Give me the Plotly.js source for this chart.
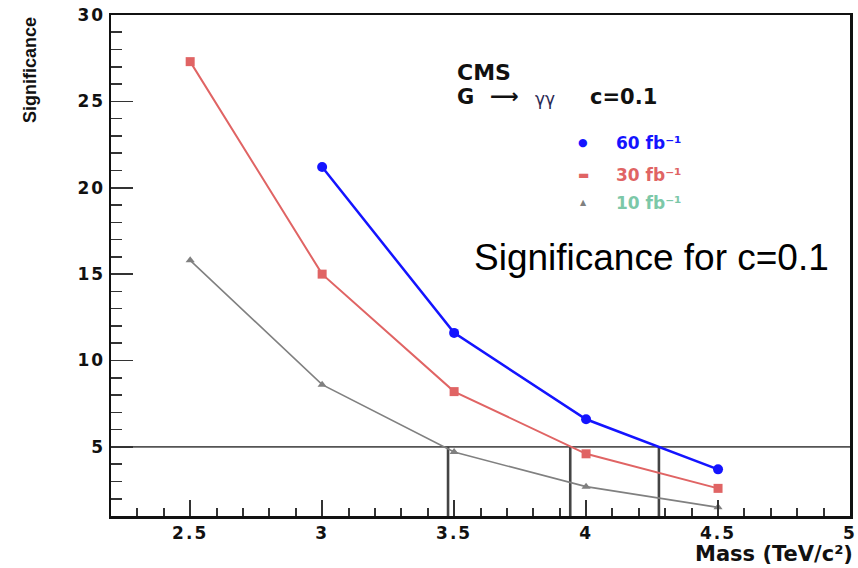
<!DOCTYPE html>
<html>
<head>
<meta charset="utf-8">
<script src="https://cdn.plot.ly/plotly-3.0.1.min.js"></script>
<style>
html,body{margin:0;padding:0;background:#fff;}
#chart{width:858px;height:568px;}
.xtick text, .ytick text {letter-spacing:2px;}
</style>
</head>
<body>
<div id="chart"></div>
<script>
// Data
var massPoints60 = [3.0, 3.5, 4.0, 4.5];
var sig60 = [21.2, 11.6, 6.6, 3.7];
var massPoints30 = [2.5, 3.0, 3.5, 4.0, 4.5];
var sig30 = [27.3, 15.0, 8.2, 4.6, 2.6];
var massPoints10 = [2.5, 3.0, 3.5, 4.0, 4.5];
var sig10 = [15.8, 8.6, 4.7, 2.7, 1.5];
var discoveryLevel = 5;
var crossingMasses = [3.477, 3.94, 4.276];
var xTickVals = [2.5, 3, 3.5, 4, 4.5, 5];
var xTickText = ['2.5', '3', '3.5', '4', '4.5', '5'];
var yTickVals = [5, 10, 15, 20, 25, 30];
var yTickText = ['5', '10', '15', '20', '25', '30'];
var legendLabels = ['60 fb\u207b\u00b9', '30 fb\u207b\u00b9', '10 fb\u207b\u00b9'];

var cBlue = '#1414ff', cRed = '#e06464', cGray = '#808080', cTeal = '#7cc8a8';

var traces = [
  {x: massPoints10, y: sig10, mode: 'lines+markers', line: {color: cGray, width: 1.6},
   marker: {symbol: 'triangle-up', size: 8, color: cGray}, cliponaxis: false, showlegend: false},
  {x: massPoints30, y: sig30, mode: 'lines+markers', line: {color: cRed, width: 2},
   marker: {symbol: 'square', size: 9, color: cRed}, cliponaxis: false, showlegend: false},
  {x: massPoints60, y: sig60, mode: 'lines+markers', line: {color: cBlue, width: 2.5},
   marker: {symbol: 'circle', size: 10, color: cBlue}, cliponaxis: false, showlegend: false}
];

var shapes = [
  {type: 'line', xref: 'paper', x0: 0, x1: 1, yref: 'y', y0: discoveryLevel, y1: discoveryLevel,
   line: {color: '#555', width: 1.6}, layer: 'below'}
];
crossingMasses.forEach(function (m) {
  shapes.push({type: 'line', xref: 'x', x0: m, x1: m, yref: 'y', y0: 1, y1: discoveryLevel,
    line: {color: '#444', width: 2.6}, layer: 'below'});
});

var tickFont = {family: 'DejaVu Sans', size: 17, color: '#111', weight: 'bold'};
var bf = 'DejaVu Sans';
function ann(x, y, xa, text, font, extra) {
  var a = {xref: 'paper', yref: 'paper', x: x, y: y, xanchor: xa, yanchor: 'middle', showarrow: false, text: text, font: font};
  if (extra) for (var k in extra) a[k] = extra[k];
  return a;
}
var annotations = [
  ann(0.4655, 0.886, 'left', 'CMS', {family: bf, size: 22, weight: 'bold', color: '#111'}),
  ann(0.4655, 0.836, 'left', 'G', {family: bf, size: 21, weight: 'bold', color: '#111'}),
  ann(0.5100, 0.838, 'left', '\u27f6', {family: bf, size: 20, weight: 'bold', color: '#111'}),
  ann(0.5710, 0.832, 'left', '\u03b3\u03b3', {family: bf, size: 17, color: '#2a2a55'}),
  ann(0.6455, 0.836, 'left', 'c=0.1', {family: bf, size: 21, weight: 'bold', color: '#111'}),
  ann(0.639, 0.745, 'center', '\u25cf', {family: bf, size: 11, color: cBlue}),
  ann(0.639, 0.681, 'center', '\u25ac', {family: bf, size: 12, color: cRed}),
  ann(0.639, 0.625, 'center', '\u25b2', {family: bf, size: 8, color: cGray}),
  ann(0.681, 0.745, 'left', legendLabels[0], {family: bf, size: 17, weight: 'bold', color: cBlue}),
  ann(0.681, 0.681, 'left', legendLabels[1], {family: bf, size: 17, weight: 'bold', color: cRed}),
  ann(0.681, 0.625, 'left', legendLabels[2], {family: bf, size: 17, weight: 'bold', color: cTeal}),
  ann(0.4885, 0.515, 'left', 'Significance for c=0.1', {family: 'Liberation Sans', size: 37, color: '#000'}),
  ann(-0.1096, 1, 'center', 'Significance', {family: 'Liberation Sans', size: 18, weight: 'bold', color: '#111'},
      {textangle: -90, yanchor: 'top'}),
  ann(1.0068, -0.075, 'right', 'Mass (TeV/c\u00b2)', {family: bf, size: 21, weight: 'bold', color: '#111'})
];

var layout = {
  width: 858, height: 568,
  margin: {l: 111, r: 8, t: 15, b: 52},
  paper_bgcolor: '#fff', plot_bgcolor: '#fff',
  showlegend: false,
  xaxis: {range: [2.2, 5], showgrid: false, zeroline: false,
    showline: true, linecolor: '#111', linewidth: 2.5, mirror: true,
    tickmode: 'array', tickvals: xTickVals, ticktext: xTickText,
    ticks: 'inside', ticklen: 16, tickwidth: 2.5, tickcolor: '#333',
    minor: {dtick: 0.1, ticks: 'inside', ticklen: 8, tickwidth: 2, tickcolor: '#333', showgrid: false},
    tickfont: tickFont},
  yaxis: {range: [1, 30], showgrid: false, zeroline: false,
    showline: true, linecolor: '#111', linewidth: 2.5, mirror: true,
    tickmode: 'array', tickvals: yTickVals, ticktext: yTickText,
    ticks: 'inside', ticklen: 22, tickwidth: 1.6, tickcolor: '#333',
    minor: {dtick: 1, ticks: 'inside', ticklen: 11, tickwidth: 1.6, tickcolor: '#333', showgrid: false},
    tickfont: tickFont},
  shapes: shapes,
  annotations: annotations
};

Plotly.newPlot('chart', traces, layout, {displayModeBar: false, staticPlot: true});
</script>
</body>
</html>
